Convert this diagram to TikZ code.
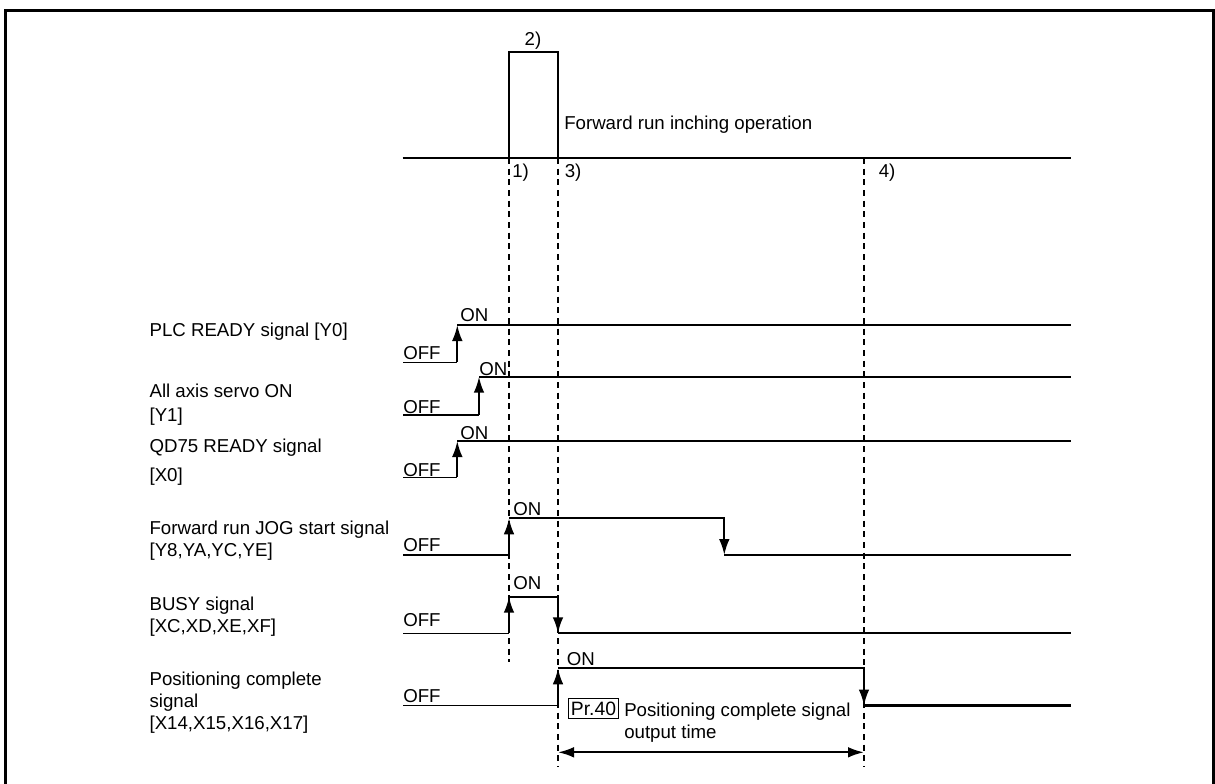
\documentclass[tikz,border=0pt]{standalone}
\usepackage{fontspec}
\setmainfont{Liberation Sans}
\usetikzlibrary{arrows.meta}
\begin{document}
\begin{tikzpicture}[x=0.75pt,y=-0.75pt,
  lbl/.style={anchor=base west, inner sep=0pt, font=\fontsize{14}{16}\selectfont},
  sig/.style={line width=1.6pt, line join=miter},
  offl/.style={line width=1.2pt},
  tip/.tip={Latex[length=12pt,width=8pt]},
  edge/.style={line width=1.6pt, -tip},
  guide/.style={line width=0.8pt, dash pattern=on 4.5pt off 3.5pt},
  frame/.style={line width=2.5pt}]
\useasboundingbox (0,0) rectangle (1215,783);
% frame
\draw[frame] (5.7,800) -- (5.7,10.7) -- (1213.3,10.7) -- (1213.3,800);

% top: inching pulse
\draw[line width=1.2pt] (402.7,158) -- (1070.7,158);
\draw[line width=2pt] (509,158) -- (509,52) -- (558,52) -- (558,158);
\node[lbl, anchor=base] (t2) at (533,45) {2)};
\node[lbl] (tinch) at (564,129) {Forward run inching operation};
\node[lbl] (t1) at (512,177.5) {1)};
\node[lbl] (t3) at (564.5,177.5) {3)};
\node[lbl] (t4) at (878.5,177.5) {4)};

% guides
\draw[guide] (509,158) -- (509,662);
\draw[guide] (558,158) -- (558,767);
\draw[guide] (864,158) -- (864,767);

% left labels
\node[lbl] (l1) at (149.3,336.7) {PLC READY signal [Y0]};
\node[lbl] (l2a) at (149.3,397.5) {All axis servo ON};
\node[lbl] (l2b) at (149.3,421) {[Y1]};
\node[lbl] (l3a) at (149.3,452.5) {QD75 READY signal};
\node[lbl] (l3b) at (149.3,481) {[X0]};
\node[lbl] (l4a) at (149.3,534) {Forward run JOG start signal};
\node[lbl] (l4b) at (149.3,556) {[Y8,YA,YC,YE]};
\node[lbl] (l5a) at (149.3,610) {BUSY signal};
\node[lbl] (l5b) at (149.3,632) {[XC,XD,XE,XF]};
\node[lbl] (l6a) at (149.3,685) {Positioning complete};
\node[lbl] (l6b) at (149.3,707) {signal};
\node[lbl] (l6c) at (149.3,729) {[X14,X15,X16,X17]};

% 1 PLC READY
\draw[offl] (403,362.3) -- (457.3,362.3);
\draw[edge] (457.3,362.3) -- (457.3,325);
\draw[sig] (457.3,325) -- (1070.7,325);
\node[lbl] (off1) at (403,359) {OFF};
\node[lbl] (on1) at (460,321.5) {ON};

% 2 servo ON
\draw[offl] (403,415) -- (479,415);
\draw[edge] (479,415) -- (479,376.7);
\draw[sig] (479,376.7) -- (1070.7,376.7);
\node[lbl] (off2) at (403,413) {OFF};
\node[lbl] (on2) at (479,375.5) {ON};

% 3 QD75 READY
\draw[offl] (403,477.3) -- (457.3,477.3);
\draw[edge] (457.3,477.3) -- (457.3,441);
\draw[sig] (457.3,441) -- (1070.7,441);
\node[lbl] (off3) at (403,476) {OFF};
\node[lbl] (on3) at (460,439.5) {ON};

% 4 JOG start
\draw[offl] (403,555) -- (509,555);
\draw[edge] (509,555) -- (509,518.3);
\draw[sig] (509,518.3) -- (724.3,518.3) -- (724.3,540);
\draw[edge] (724.3,518.3) -- (724.3,555);
\draw[sig] (724.3,555) -- (1070.7,555);
\node[lbl] (off4) at (403,551.5) {OFF};
\node[lbl] (on4) at (513,515) {ON};

% 5 BUSY
\draw[offl] (403,633.3) -- (509,633.3);
\draw[edge] (509,633.3) -- (509,596.7);
\draw[sig] (509,596.7) -- (558,596.7) -- (558,615);
\draw[edge] (558,596.7) -- (558,633.3);
\draw[sig] (558,633.3) -- (1070.7,633.3);
\node[lbl] (off5) at (403,626.5) {OFF};
\node[lbl] (on5) at (513,589.3) {ON};

% 6 Positioning complete
\draw[offl] (403,705.5) -- (558,705.5);
\draw[edge] (558,705.5) -- (558,668.3);
\draw[sig] (558,668.3) -- (864,668.3) -- (864,690);
\draw[edge] (864,668.3) -- (864,705.5);
\draw[sig] (864,705.5) -- (1070.7,705.5);
\node[lbl] (off6) at (403,702) {OFF};
\node[lbl] (on6) at (566.7,665) {ON};

% Pr.40 box and dimension
\node[draw, line width=0.8pt, inner xsep=1.8pt, inner ysep=2.5pt, anchor=west,
      font=\fontsize{14.5}{16}\selectfont] (pr) at (568,708.5) {Pr.40};
\node[lbl] (pt1) at (624,716) {Positioning complete signal};
\node[lbl] (pt2) at (624,738) {output time};
\coordinate (d1) at (558,752.3);
\coordinate (d2) at (864,752.3);
\draw[line width=1.6pt, tip-tip] (d1) -- (d2);
\end{tikzpicture}
\end{document}
